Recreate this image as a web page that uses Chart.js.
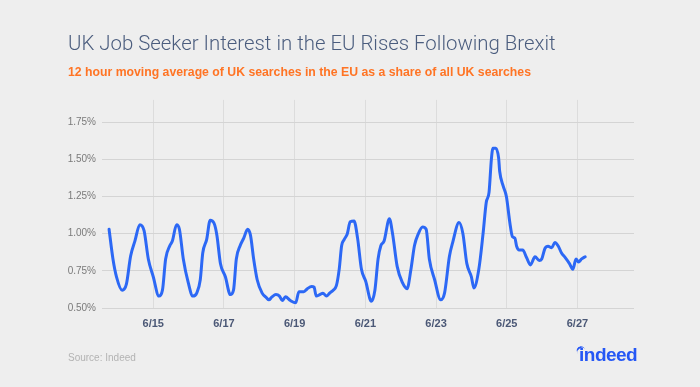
<!DOCTYPE html>
<html>
<head>
<meta charset="utf-8">
<script src="https://cdn.jsdelivr.net/npm/chart.js"></script>
<style>
  html, body { margin: 0; padding: 0; background: #eeeeee; }
  #wrap { position: relative; width: 700px; height: 387px; overflow: hidden; background: #eeeeee; }
  #c { position: absolute; left: 0; top: 0; }
  #source { position: absolute; left: 68px; top: 352px; font: 10px "Liberation Sans", Arial, sans-serif; color: #b3b3b3; }
  #logo { position: absolute; left: 579px; top: 344px; font: bold 19px "Liberation Sans", Arial, sans-serif; color: #2557f5; letter-spacing: -0.5px; }
  #arc { position: absolute; left: 577px; top: 346px; width: 9px; height: 9px; border-top: 2px solid #2557f5; border-radius: 50%; transform: rotate(-30deg); }
</style>
</head>
<body>
<div id="wrap">
  <canvas id="c" width="700" height="387"></canvas>
  <div id="source">Source: Indeed</div>
  <div id="arc"></div>
  <div id="logo">indeed</div>
</div>
<script>
// Time position in June days (e.g. 15.5 = 6/15 noon)
const dayPos = [13.75,13.86,13.96,14.12,14.24,14.36,14.48,14.62,14.74,14.86,
  15.00,15.16,15.26,15.35,15.47,15.54,15.66,15.74,15.85,15.99,
  16.12,16.23,16.33,16.40,16.51,16.61,16.72,16.80,16.90,17.04,
  17.18,17.27,17.35,17.46,17.56,17.67,17.75,17.84,17.94,18.08,
  18.20,18.27,18.36,18.47,18.57,18.65,18.74,18.88,19.03,19.12,
  19.26,19.36,19.48,19.55,19.61,19.71,19.80,19.90,19.99,20.09,
  20.18,20.26,20.33,20.40,20.49,20.57,20.68,20.78,20.89,21.01,
  21.17,21.27,21.36,21.44,21.53,21.68,21.77,21.90,22.05,22.18,
  22.29,22.39,22.50,22.62,22.72,22.81,22.96,23.13,23.24,23.38,
  23.47,23.65,23.76,23.87,24.00,24.07,24.21,24.33,24.42,24.50,
  24.565,24.61,24.69,24.77,24.80,24.90,24.99,25.09,25.16,25.23,
  25.28,25.35,25.45,25.56,25.67,25.80,25.92,25.99,26.08,26.17,
  26.27,26.36,26.46,26.55,26.65,26.77,26.87,26.96,27.03,27.12,
  27.22];
// EU share of UK searches, %
const euShare = [1.03,0.83,0.71,0.62,0.66,0.85,0.95,1.06,1.02,0.83,
  0.71,0.58,0.62,0.83,0.92,0.95,1.06,1.03,0.83,0.67,
  0.58,0.60,0.69,0.87,0.96,1.09,1.07,0.99,0.80,0.71,
  0.59,0.62,0.83,0.92,0.97,1.03,0.99,0.83,0.69,0.60,
  0.57,0.555,0.575,0.59,0.58,0.55,0.575,0.55,0.535,0.61,
  0.61,0.63,0.645,0.64,0.58,0.59,0.60,0.58,0.60,0.62,
  0.65,0.76,0.92,0.96,1.00,1.08,1.085,0.97,0.76,0.68,
  0.545,0.62,0.83,0.92,0.95,1.10,1.00,0.78,0.67,0.63,
  0.76,0.92,1.00,1.045,1.03,0.83,0.69,0.555,0.60,0.85,
  0.94,1.075,1.00,0.80,0.71,0.635,0.76,1.00,1.21,1.28,
  1.50,1.575,1.575,1.51,1.42,1.32,1.25,1.07,0.98,0.97,
  0.915,0.89,0.89,0.84,0.79,0.845,0.82,0.83,0.90,0.915,
  0.905,0.94,0.915,0.87,0.84,0.80,0.76,0.83,0.81,0.83,
  0.845];
const xTickDays = [15,17,19,21,23,25,27];
const xTickLabels = ["6/15","6/17","6/19","6/21","6/23","6/25","6/27"];
const yTicks = [0.50,0.75,1.00,1.25,1.50,1.75];

const points = dayPos.map((d, i) => ({ x: d, y: euShare[i] }));

new Chart(document.getElementById('c'), {
  type: 'line',
  data: {
    datasets: [{
      data: points,
      borderColor: '#2c68f5',
      borderWidth: 3,
      pointRadius: 0,
      tension: 0.4,
      cubicInterpolationMode: 'monotone',
      borderJoinStyle: 'round',
      borderCapStyle: 'round',
      fill: false
    }]
  },
  options: {
    responsive: false,
    animation: false,
    devicePixelRatio: 1,
    layout: { padding: { left: 68, right: 66, top: 0, bottom: 0 } },
    plugins: {
      legend: { display: false },
      tooltip: { enabled: false },
      title: {
        display: true,
        text: 'UK Job Seeker Interest in the EU Rises Following Brexit',
        align: 'start',
        color: '#4b5d7e',
        font: { family: 'Roboto, "Liberation Sans", sans-serif', size: 20.4, weight: '300', lineHeight: 1.2 },
        padding: { top: 32.5, bottom: 0 }
      },
      subtitle: {
        display: true,
        text: '12 hour moving average of UK searches in the EU as a share of all UK searches',
        align: 'start',
        color: '#ff7424',
        font: { family: '"Liberation Sans", Arial, sans-serif', size: 12.25, weight: 'bold', lineHeight: 1.2 },
        padding: { top: 8.2, bottom: 20 }
      }
    },
    scales: {
      x: {
        type: 'linear',
        min: 13.55,
        max: 28.6,
        afterFit: s => { s.height = 79; },
        afterBuildTicks: axis => { axis.ticks = xTickDays.map(v => ({ value: v })); },
        ticks: {
          autoSkip: false,
          maxRotation: 0,
          padding: 9,
          color: '#4b5876',
          font: { family: '"Liberation Sans", Arial, sans-serif', size: 11, weight: 'bold' },
          callback: (v) => { const i = xTickDays.indexOf(v); return i >= 0 ? xTickLabels[i] : ''; }
        },
        grid: { color: '#dcdcdc', drawTicks: false, lineWidth: 1 },
        border: { display: false }
      },
      y: {
        min: 0.5,
        max: 1.9,
        afterFit: s => { s.width = 34; },
        afterBuildTicks: axis => { axis.ticks = yTicks.map(v => ({ value: v })); },
        ticks: {
          padding: 6,
          color: '#7a7a7a',
          font: { family: '"Liberation Sans", Arial, sans-serif', size: 10 },
          callback: v => v.toFixed(2) + '%'
        },
        grid: { color: '#d4d4d4', drawTicks: false, lineWidth: 1 },
        border: { display: false }
      }
    }
  }
});
</script>
</body>
</html>
